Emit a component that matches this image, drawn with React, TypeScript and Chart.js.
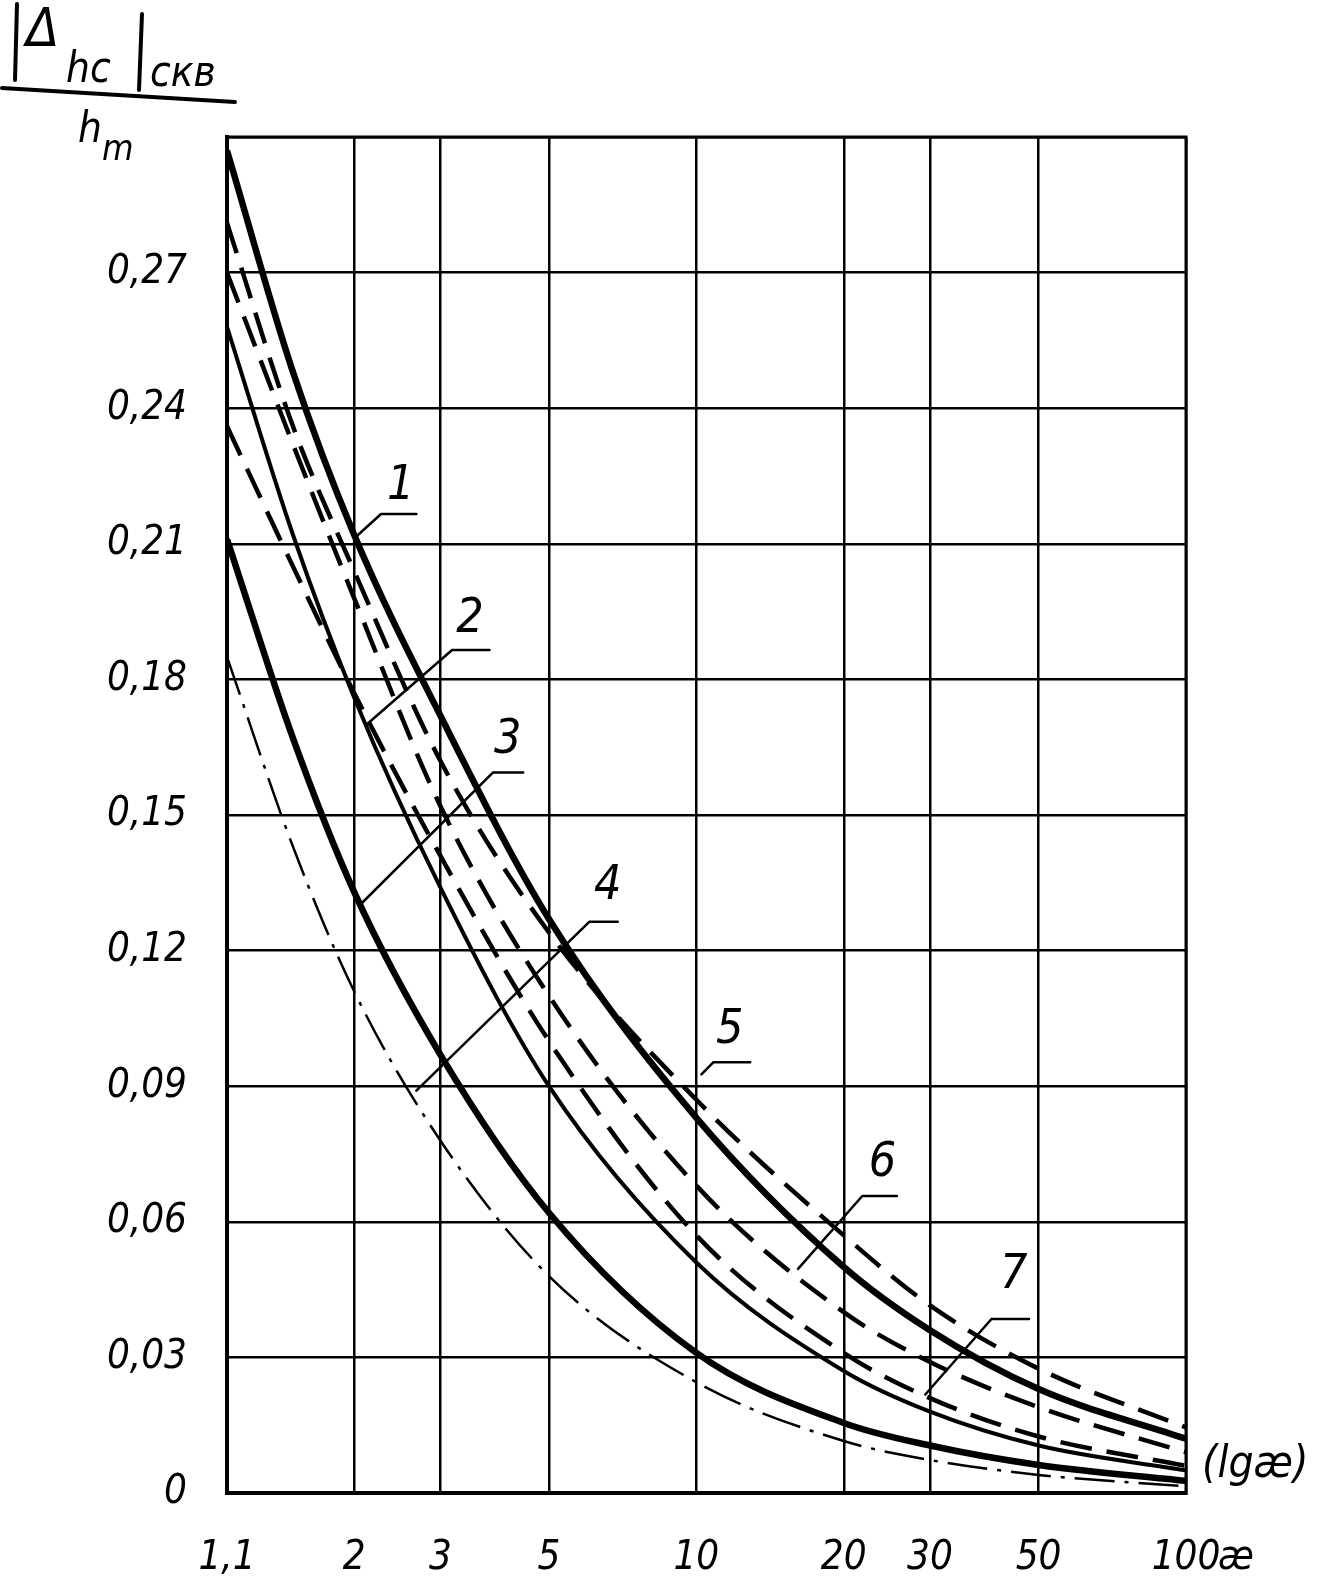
import { useEffect, useRef } from "react";
import { Chart, registerables } from "chart.js";

Chart.register(...registerables);

// ---- data ----
const xValues = [1.1, 1.5, 2, 3, 5, 10, 20, 30, 50, 100];
const curve1 = [0.297, 0.248, 0.212, 0.172, 0.127, 0.083, 0.05, 0.036, 0.023, 0.012];
const curve2 = [0.258, 0.212, 0.176, 0.134, 0.09, 0.051, 0.027, 0.018, 0.0105, 0.005];
const curve3 = [0.211, 0.167, 0.133, 0.097, 0.062, 0.031, 0.0155, 0.0105, 0.0062, 0.0027];
const curve4 = [0.185, 0.143, 0.111, 0.078, 0.048, 0.0245, 0.0115, 0.0073, 0.004, 0.0015];
const curve5 = [0.281, 0.236, 0.204, 0.162, 0.124, 0.087, 0.057, 0.0415, 0.0275, 0.0145];
const curve6 = [0.27, 0.232, 0.198, 0.152, 0.11, 0.068, 0.04, 0.029, 0.019, 0.009];
const curve7 = [0.236, 0.205, 0.177, 0.141, 0.1, 0.057, 0.031, 0.021, 0.0125, 0.006];

const xTickValues = [1.1, 2, 3, 5, 10, 20, 30, 50, 100];
const xTickLabels = ["1,1", "2", "3", "5", "10", "20", "30", "50", "100"];
const yTickValues = [0, 0.03, 0.06, 0.09, 0.12, 0.15, 0.18, 0.21, 0.24, 0.27, 0.3];
const yTickLabels = ["0", "0,03", "0,06", "0,09", "0,12", "0,15", "0,18", "0,21", "0,24", "0,27", ""];

// curve number labels with leader lines (data coordinates)
const curveNames = ["1", "2", "3", "4", "5", "6", "7"];
const labelTextX = [2.49, 3.45, 4.12, 6.59, 11.7, 24.0, 44.5];
const labelTextY = [0.2226, 0.1932, 0.1665, 0.1342, 0.1024, 0.073, 0.0481];
const leaderTipX = [2.01, 2.11, 2.06, 2.68, 10.24, 16.13, 29.35];
const leaderTipY = [0.2114, 0.1698, 0.1302, 0.089, 0.0926, 0.0496, 0.0218];
const leaderElbowX = [2.27, 3.17, 3.84, 6.05, 10.84, 21.82, 40.06];
const leaderElbowY = [0.2166, 0.1865, 0.1594, 0.1264, 0.0953, 0.0657, 0.0385];
const leaderEndX = [2.68, 3.78, 4.43, 6.91, 12.88, 25.67, 47.8];

const FONT = "'Liberation Sans Narrow', 'DejaVu Sans Condensed', 'DejaVu Sans', sans-serif";

const pts = (ys: number[]) => xValues.map((x, i) => ({ x, y: ys[i] }));

const annotations = {
  id: "annotations",
  afterDatasetsDraw(chart: any) {
    const ctx = chart.ctx as CanvasRenderingContext2D;
    const xs = chart.scales.x;
    const ys = chart.scales.y;
    ctx.save();
    ctx.strokeStyle = "#000";
    ctx.fillStyle = "#000";
    ctx.lineWidth = 2.5;
    ctx.lineCap = "round";
    ctx.lineJoin = "round";
    for (let i = 0; i < curveNames.length; i++) {
      const ey = ys.getPixelForValue(leaderElbowY[i]);
      ctx.beginPath();
      ctx.moveTo(xs.getPixelForValue(leaderTipX[i]), ys.getPixelForValue(leaderTipY[i]));
      ctx.lineTo(xs.getPixelForValue(leaderElbowX[i]), ey);
      ctx.lineTo(xs.getPixelForValue(leaderEndX[i]), ey);
      ctx.stroke();
      ctx.font = `italic 48px ${FONT}`;
      ctx.textAlign = "center";
      ctx.textBaseline = "middle";
      ctx.fillText(curveNames[i], xs.getPixelForValue(labelTextX[i]), ys.getPixelForValue(labelTextY[i]));
    }
    // axis extras
    ctx.font = `italic 44px ${FONT}`;
    ctx.textAlign = "left";
    ctx.textBaseline = "middle";
    ctx.fillText("(lgæ)", chart.chartArea.right + 16, ys.getPixelForValue(0.006));
    ctx.font = `italic 40px ${FONT}`;
    ctx.fillText("æ", xs.getPixelForValue(100) + 32, chart.chartArea.bottom + 66);

    // y-axis title: |Δhc|скв / hm
    ctx.lineWidth = 4;
    ctx.beginPath();
    ctx.moveTo(17, 4);
    ctx.lineTo(15, 80);
    ctx.moveTo(142, 14);
    ctx.lineTo(139, 90);
    ctx.moveTo(2, 88);
    ctx.lineTo(235, 102);
    ctx.stroke();
    ctx.textBaseline = "alphabetic";
    ctx.font = `italic 54px ${FONT}`;
    ctx.fillText("Δ", 26, 46);
    ctx.font = `italic 42px ${FONT}`;
    ctx.fillText("hc", 66, 82);
    ctx.fillText("скв", 150, 86);
    ctx.fillText("h", 78, 142);
    ctx.font = `italic 36px ${FONT}`;
    ctx.fillText("m", 102, 160);
    ctx.restore();
  },
};

export default function App() {
  const ref = useRef<HTMLCanvasElement>(null);
  useEffect(() => {
    document.body.style.margin = "0";
    document.body.style.overflow = "hidden";
    const line = (data: number[], w: number) => ({
      data: pts(data),
      borderColor: "#000",
      borderWidth: w,
      pointRadius: 0,
      fill: false,
      cubicInterpolationMode: "monotone" as const,
    });
    const chart = new Chart(ref.current!, {
      type: "line",
      data: {
        datasets: [
          { label: "1", ...line(curve1, 6.5) },
          { label: "2", ...line(curve2, 4) },
          { label: "3", ...line(curve3, 6.5) },
          { label: "4", ...line(curve4, 2.5), borderDash: [40, 10, 4, 10] },
          { label: "5", ...line(curve5, 4.5), borderDash: [32, 15] },
          { label: "6", ...line(curve6, 4.5), borderDash: [32, 15] },
          { label: "7", ...line(curve7, 4.5), borderDash: [32, 15] },
        ],
      },
      options: {
        responsive: false,
        animation: false,
        layout: { padding: { top: 137, right: 137, left: 0, bottom: 0 } },
        plugins: { legend: { display: false }, tooltip: { enabled: false } },
        scales: {
          x: {
            type: "logarithmic",
            min: 1.1,
            max: 100,
            afterBuildTicks: (s: any) => {
              s.ticks = xTickValues.map((v) => ({ value: v }));
            },
            afterFit: (s: any) => {
              s.height = 94;
            },
            grid: { color: "#000", lineWidth: 2.5, drawTicks: false },
            border: { display: true, color: "#000", width: 4 },
            ticks: {
              autoSkip: false,
              maxRotation: 0,
              padding: 42,
              color: "#000",
              font: { family: FONT, size: 40, style: "italic" },
              callback: (_v: any, i: number) => xTickLabels[i],
            },
          },
          y: {
            type: "linear",
            min: 0,
            max: 0.3,
            afterBuildTicks: (s: any) => {
              s.ticks = yTickValues.map((v) => ({ value: v }));
            },
            afterFit: (s: any) => {
              s.width = 227;
            },
            grid: { color: "#000", lineWidth: 2.5, drawTicks: false },
            border: { display: true, color: "#000", width: 4 },
            ticks: {
              autoSkip: false,
              padding: 40,
              color: "#000",
              font: { family: FONT, size: 40, style: "italic" },
              callback: (_v: any, i: number) => yTickLabels[i],
            },
          },
        },
      },
      plugins: [
        annotations,
        {
          id: "frame",
          afterDraw(chart: any) {
            const { left, right, top, bottom } = chart.chartArea;
            const ctx = chart.ctx;
            ctx.save();
            ctx.strokeStyle = "#000";
            ctx.lineWidth = 3;
            ctx.strokeRect(left, top, right - left, bottom - top);
            ctx.restore();
          },
        },
      ],
    });
    return () => chart.destroy();
  }, []);
  return (
    <div style={{ width: 1323, height: 1587, background: "#fff" }}>
      <canvas ref={ref} width={1323} height={1587} />
    </div>
  );
}
